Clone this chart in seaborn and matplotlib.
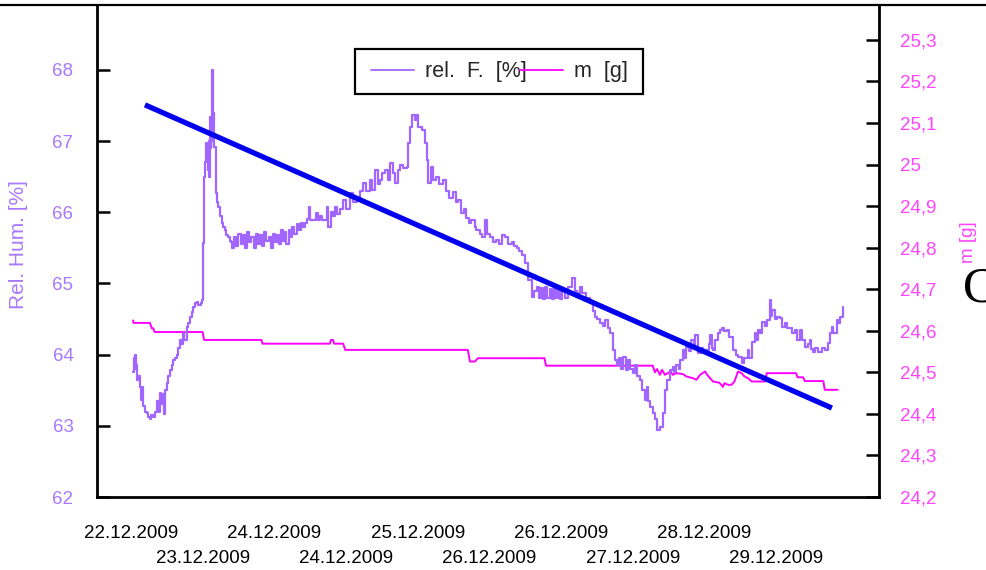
import matplotlib
matplotlib.use("Agg")
import matplotlib.pyplot as plt
import seaborn as sns
from matplotlib.lines import Line2D
from matplotlib.patches import Rectangle

# ---------------- data ----------------
date_labels = ["22.12.2009", "23.12.2009", "24.12.2009", "24.12.2009", "25.12.2009",
               "26.12.2009", "26.12.2009", "27.12.2009", "28.12.2009", "29.12.2009"]
date_pos = [0, 1, 2, 3, 4, 5, 6, 7, 8, 9]

rh_ticks = [62, 63, 64, 65, 66, 67, 68]
m_ticks = [24.2, 24.3, 24.4, 24.5, 24.6, 24.7, 24.8, 24.9, 25.0, 25.1, 25.2, 25.3]
m_tick_labels = ["24,2", "24,3", "24,4", "24,5", "24,6", "24,7", "24,8", "24,9",
                 "25", "25,1", "25,2", "25,3"]

rh_t = [0.03, 0.04, 0.05, 0.06, 0.07, 0.08, 0.10, 0.12, 0.14, 0.15, 0.17, 0.20, 0.22, 0.24,
        0.26, 0.28, 0.31, 0.33, 0.36, 0.37, 0.39, 0.40, 0.42, 0.44, 0.45, 0.46, 0.48, 0.50,
        0.52, 0.54, 0.57, 0.59, 0.61, 0.64, 0.66, 0.68, 0.70, 0.73, 0.74, 0.78, 0.80, 0.82,
        0.85, 0.87, 0.89, 0.92, 0.94, 0.98, 0.99, 1.00, 1.01, 1.02, 1.03, 1.05, 1.055, 1.06,
        1.08, 1.085, 1.09, 1.10, 1.11, 1.12, 1.125, 1.13, 1.14, 1.15, 1.155, 1.16, 1.18, 1.20,
        1.22, 1.24, 1.27, 1.29, 1.31, 1.33, 1.36, 1.38, 1.40, 1.41,
        1.44, 1.47, 1.50, 1.53, 1.56, 1.59, 1.62, 1.65, 1.68, 1.71, 1.74, 1.77, 1.80, 1.83,
        1.86, 1.89, 1.92, 1.95, 1.98, 2.01, 2.04, 2.07,
        2.10, 2.12, 2.15, 2.17, 2.20, 2.22, 2.25, 2.28, 2.31, 2.34, 2.37, 2.40, 2.43, 2.46,
        2.48, 2.50, 2.55, 2.58, 2.61, 2.64, 2.67, 2.73, 2.75, 2.79, 2.82, 2.85, 2.88, 2.91,
        2.96, 3.00, 3.05, 3.10, 3.15, 3.20, 3.24, 3.28, 3.33, 3.36, 3.40, 3.44, 3.47, 3.50,
        3.54, 3.58, 3.61, 3.65, 3.68, 3.72, 3.75, 3.80, 3.85, 3.87, 3.90, 3.92, 3.96, 3.98,
        4.01, 4.06, 4.10, 4.13, 4.15, 4.19, 4.22, 4.26, 4.30, 4.35, 4.40, 4.44, 4.49, 4.53,
        4.56, 4.61, 4.65, 4.68, 4.72, 4.75, 4.80, 4.82, 4.87, 4.90, 4.94, 4.97, 5.01, 5.05,
        5.10, 5.14, 5.18, 5.22, 5.26, 5.31, 5.35, 5.38, 5.42, 5.45, 5.50, 5.54, 5.59, 5.62,
        5.66, 5.69, 5.72, 5.75, 5.78, 5.81, 5.84, 5.87, 5.90, 5.93, 5.96, 5.99, 6.02, 6.05,
        6.10, 6.16, 6.20, 6.23, 6.27, 6.30, 6.35, 6.40, 6.44, 6.47, 6.50, 6.54, 6.58, 6.61,
        6.65, 6.68, 6.72, 6.75, 6.78, 6.81, 6.84, 6.87, 6.90, 6.93, 6.96, 7.00, 7.03, 7.06,
        7.10, 7.13, 7.17, 7.20, 7.22, 7.24, 7.28, 7.31, 7.34, 7.38, 7.42, 7.45, 7.48, 7.52,
        7.56, 7.58, 7.61, 7.64, 7.66, 7.70, 7.72, 7.75, 7.78, 7.82, 7.85, 7.87, 7.91, 7.95,
        7.98, 8.03, 8.06, 8.08, 8.10, 8.12, 8.15, 8.19, 8.22, 8.24, 8.28, 8.31, 8.35, 8.40,
        8.44, 8.47, 8.52, 8.56, 8.61, 8.63, 8.66, 8.70, 8.72, 8.75, 8.78, 8.80, 8.84, 8.87,
        8.91, 8.93, 8.95, 8.98, 9.01, 9.05, 9.09, 9.12, 9.15, 9.19, 9.22, 9.26, 9.29, 9.33,
        9.36, 9.40, 9.44, 9.47, 9.49, 9.51, 9.55, 9.58, 9.61, 9.64, 9.68, 9.72, 9.75, 9.78,
        9.80, 9.85, 9.87, 9.89, 9.93]
rh_v = [63.75, 63.95, 63.80, 64.00, 63.85, 63.65, 63.70, 63.55, 63.36, 63.55, 63.28, 63.20, 63.18, 63.12,
        63.10, 63.15, 63.12, 63.20, 63.25, 63.35, 63.20, 63.46, 63.30, 63.32, 63.45, 63.17, 63.50, 63.60,
        63.70, 63.78, 63.85, 63.92, 63.95, 64.00, 64.10, 64.20, 64.15, 64.30, 64.20, 64.39, 64.45, 64.53,
        64.60, 64.67, 64.72, 64.74, 64.70, 64.72, 64.77, 65.20, 65.57, 66.50, 66.70, 66.97, 66.80, 66.73,
        66.60, 67.00, 66.50, 67.34, 66.90, 67.00, 67.90, 68.00, 67.60, 67.39, 67.10, 66.92, 66.27, 66.15,
        66.07, 65.95, 65.85, 65.80, 65.75, 65.68, 65.65, 65.60, 65.58, 65.50,
        65.65, 65.52, 65.70, 65.55, 65.68, 65.50, 65.72, 65.58, 65.66, 65.50, 65.70, 65.55, 65.68, 65.52,
        65.72, 65.60, 65.66, 65.50, 65.70, 65.58, 65.68, 65.55,
        65.75, 65.60, 65.72, 65.55, 65.75, 65.65, 65.80, 65.70, 65.83, 65.75, 65.85, 65.80, 65.85, 65.90,
        66.07, 65.89, 65.89, 65.99, 65.89, 65.95, 65.89, 66.07, 65.80, 66.00, 65.95, 66.07, 65.97, 66.05,
        66.17, 66.05, 66.27, 66.15, 66.21, 66.30, 66.41, 66.30, 66.45, 66.31, 66.60, 66.40, 66.45, 66.55,
        66.59, 66.45, 66.69, 66.55, 66.41, 66.60, 66.66, 66.62, 66.63, 66.97, 67.20, 67.37, 67.30, 67.37,
        67.20, 67.15, 66.97, 66.73, 66.41, 66.64, 66.45, 66.50, 66.40, 66.45, 66.30, 66.20, 66.28, 66.15,
        66.17, 65.99, 66.05, 65.92, 65.85, 65.89, 65.80, 65.75, 65.70, 65.65, 65.89, 65.70, 65.65, 65.58,
        65.61, 65.55, 65.68, 65.65, 65.55, 65.58, 65.52, 65.50, 65.45, 65.40, 65.29, 65.05, 64.81, 64.90,
        64.95, 64.80, 64.93, 64.78, 64.95, 64.80, 64.92, 64.78, 64.95, 64.80, 64.93, 64.78, 64.90, 64.80,
        64.95, 65.08, 64.90, 64.87, 64.95, 64.87, 64.80, 64.72, 64.62, 64.53, 64.50, 64.44, 64.40, 64.49,
        64.38, 64.30, 64.06, 63.92, 63.85, 63.95, 63.80, 63.97, 63.78, 63.92, 63.80, 63.74, 63.85, 63.70,
        63.64, 63.50, 63.36, 63.54, 63.35, 63.26, 63.18, 63.10, 62.94, 62.98, 63.18, 63.50, 63.64, 63.78,
        63.83, 63.75, 63.85, 63.80, 63.92, 64.06, 63.95, 64.11, 64.05, 64.21, 64.10, 64.28, 64.02, 64.10,
        64.06, 64.06, 64.15, 64.28, 64.10, 64.06, 64.20, 64.30, 64.35, 64.37, 64.33, 64.35, 64.25, 64.06,
        64.00, 63.97, 63.88, 63.95, 64.06, 63.95, 64.18, 64.30, 64.20, 64.35, 64.30, 64.46, 64.40, 64.49,
        64.77, 64.55, 64.63, 64.50, 64.53, 64.51, 64.39, 64.45, 64.37, 64.37, 64.30, 64.35, 64.21, 64.35,
        64.20, 64.11, 64.15, 64.21, 64.08, 64.04, 64.10, 64.04, 64.04, 64.10, 64.06, 64.16, 64.30, 64.39,
        64.30, 64.49, 64.45, 64.53, 64.67]

m_t = [0.03, 0.035, 0.265, 0.29, 0.31, 0.33, 1.00, 1.02, 1.82, 1.835, 2.775, 2.79, 2.82, 2.835,
       2.96, 2.99, 4.70, 4.73, 4.80, 4.84, 5.77, 5.79, 7.28, 7.31, 7.34, 7.38, 7.41, 7.45, 7.49,
       7.53, 7.56, 7.61, 7.70, 7.75, 7.84, 7.89, 7.94, 8.01, 8.04, 8.08, 8.12, 8.21, 8.26, 8.28,
       8.33, 8.38, 8.42, 8.47, 8.52, 8.56, 8.61, 8.66, 8.85, 8.87, 9.28, 9.30, 9.38, 9.40, 9.66,
       9.68, 9.86]
m_v = [24.625, 24.619, 24.619, 24.606, 24.606, 24.597, 24.597, 24.578, 24.578, 24.569, 24.569,
       24.578, 24.578, 24.569, 24.569, 24.554, 24.554, 24.526, 24.526, 24.534, 24.534, 24.516,
       24.516, 24.500, 24.508, 24.494, 24.506, 24.494, 24.498, 24.502, 24.494, 24.498, 24.496,
       24.490, 24.486, 24.482, 24.494, 24.502, 24.494, 24.486, 24.478, 24.475, 24.465, 24.474,
       24.470, 24.470, 24.478, 24.502, 24.498, 24.490, 24.486, 24.478, 24.478, 24.498, 24.498,
       24.488, 24.488, 24.479, 24.479, 24.458, 24.458]

fit_t = [0.195, 9.78]
fit_v = [67.51, 63.25]

# ---------------- style ----------------
PURPLE = "#A066FF"
PURPLE_LBL = "#A878FF"
MAGENTA = "#FF00FF"
MAGENTA_LBL = "#FF44FF"
BLUE = "#0000EE"

sns.set_style("white")
plt.rcParams['font.family'] = ['Liberation Sans', 'DejaVu Sans']

W, H = 986, 570
fig = plt.figure(figsize=(W / 100, H / 100), dpi=100)
ax = fig.add_axes([97 / W, 1 - 497 / H, (879 - 97) / W, (497 - 5) / H])
ax2 = ax.twinx()
ax.set_zorder(2)
ax2.set_zorder(1)
ax.patch.set_visible(False)

sns.lineplot(x=m_t, y=m_v, ax=ax2, color=MAGENTA, linewidth=1.4,
             sort=False, estimator=None, legend=False)
sns.lineplot(x=rh_t, y=rh_v, ax=ax, color=PURPLE, linewidth=1.6,
             sort=False, estimator=None, legend=False, drawstyle='steps-post')
sns.lineplot(x=fit_t, y=fit_v, ax=ax, color=BLUE, linewidth=3.8,
             sort=False, estimator=None, legend=False, solid_capstyle='butt')

ax.set_xlim(-0.474, 10.437)
ax.set_ylim(62, 68.913)
ax2.set_ylim(24.2, 25.384)

# spines
for a in (ax, ax2):
    a.spines['top'].set_visible(False)
ax.spines['right'].set_visible(False)
ax2.spines['left'].set_visible(False)
ax2.spines['bottom'].set_visible(False)
ax.spines['left'].set_linewidth(2.0)
ax.spines['bottom'].set_linewidth(2.0)
ax2.spines['right'].set_linewidth(2.0)
for s in ('left', 'bottom'):
    ax.spines[s].set_color('black')
ax2.spines['right'].set_color('black')

# y ticks
ax.set_yticks(rh_ticks, labels=[str(v) for v in rh_ticks])
ax.tick_params(axis='y', direction='in', length=9.5, width=1.8, color='black',
               pad=17, labelsize=13.5, labelcolor=PURPLE_LBL, left=True)
ax2.set_yticks(m_ticks, labels=m_tick_labels)
ax2.tick_params(axis='y', direction='in', length=9.5, width=1.8, color='black',
                pad=15, labelsize=13.5, labelcolor=MAGENTA_LBL, right=True)

# x ticks, two staggered rows
ax.set_xticks(date_pos[0::2], labels=date_labels[0::2])
ax.set_xticks(date_pos[1::2], labels=date_labels[1::2], minor=True)
ax.tick_params(axis='x', which='major', length=0, pad=20, labelsize=13.5, labelcolor='black')
ax.tick_params(axis='x', which='minor', length=0, pad=38.5, labelsize=13.5, labelcolor='black')
ax.set_xlabel("")

# axis labels
ax.set_ylabel("Rel. Hum. [%]", color=PURPLE_LBL, fontsize=15)
ax.yaxis.set_label_coords(-0.101, 0.514)
ax.yaxis.label.set_verticalalignment('center')
ax2.set_ylabel("m [g]", color=MAGENTA_LBL, fontsize=13.5)
ax2.yaxis.set_label_coords(1.115, 0.518)
ax2.yaxis.label.set_verticalalignment('center')

# top border line across figure
fig.add_artist(Line2D([0, 1], [1 - 5 / H, 1 - 5 / H], transform=fig.transFigure,
                      color='black', linewidth=1.6))

# legend
handles = [Line2D([], [], color=PURPLE, linewidth=1.3),
           Line2D([], [], color=MAGENTA, linewidth=1.3)]
fig.add_artist(Rectangle((355 / W, 1 - 94 / H), 288 / W, 45 / H, transform=fig.transFigure,
                         fill=True, facecolor='white', edgecolor='black', linewidth=1.6, zorder=4))
leg = fig.legend(handles, ["rel.  F.  [%]", "m  [g]"], loc='center left',
                 bbox_to_anchor=(371 / W, 1 - 72 / H), bbox_transform=fig.transFigure,
                 ncol=2, frameon=False, borderpad=0, borderaxespad=0, handlelength=2.0,
                 handletextpad=0.5, columnspacing=-0.3, fontsize=15.5)
leg.set_zorder(5)

# cropped serif letter at right edge
fig.text(963 / W, 1 - 302 / H, "C", fontsize=36, ha='left', va='baseline',
         family=['Liberation Serif', 'DejaVu Serif'], color='black')

fig.savefig("out.png", dpi=100)
